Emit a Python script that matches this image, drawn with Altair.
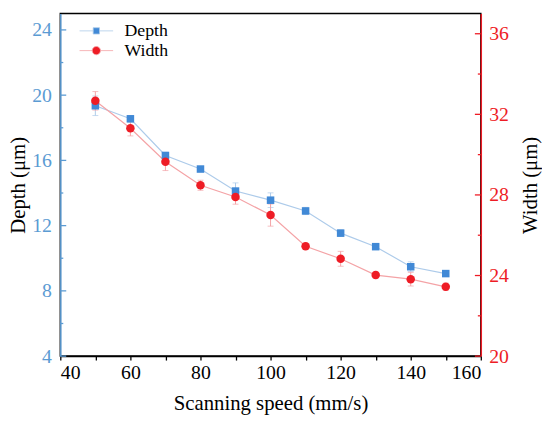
import altair as alt
import pandas as pd

# ---- data ----
speed = [50, 60, 70, 80, 90, 100, 110, 120, 130, 140, 150]
depth = [19.35, 18.55, 16.3, 15.47, 14.12, 13.56, 12.9, 11.54, 10.71, 9.48, 9.06]
depth_err = [0.6, 0.2, 0.2, 0.15, 0.5, 0.45, 0.22, 0.2, 0.15, 0.3, 0.15]
width = [32.67, 31.31, 29.65, 28.48, 27.9, 27.0, 25.45, 24.83, 24.02, 23.82, 23.44]
width_err = [0.46, 0.38, 0.44, 0.25, 0.36, 0.55, 0.15, 0.37, 0.15, 0.34, 0.18]

series_names = ["Depth", "Width"]
x_labels = [40, 60, 80, 100, 120, 140, 160]
x_minor = [50, 70, 90, 110, 130, 150]
x_all = [40, 50, 60, 70, 80, 90, 100, 110, 120, 130, 140, 150, 160]
depth_labels = [4, 8, 12, 16, 20, 24]
depth_minor = [6, 10, 14, 18, 22]
width_labels = [20, 24, 28, 32, 36]
width_minor = [22, 26, 30, 34]

BLUE = "#4189d6"
BLUE_AX = "#5b9bd3"
BLUE_LT = "#adcbea"
RED = "#ee1c25"
RED_LT = "#f4a3a6"
FONT = "Liberation Serif"
W, H = 426, 347
MAJ, MIN = 6, 3

ddf = pd.DataFrame({"speed": speed, "v": depth, "e": depth_err})
ddf["lo"] = ddf["v"] - ddf["e"]
ddf["hi"] = ddf["v"] + ddf["e"]
wdf = pd.DataFrame({"speed": speed, "v": width, "e": width_err})
wdf["lo"] = wdf["v"] - wdf["e"]
wdf["hi"] = wdf["v"] + wdf["e"]

xsc = alt.Scale(domain=[40, 160], nice=False, zero=False)
dsc = alt.Scale(domain=[4, 25], nice=False, zero=False)
wsc = alt.Scale(domain=[20, 37], nice=False, zero=False)

x_lab_axis = alt.Axis(orient="bottom", values=x_all, ticks=True, tickSize=4, tickColor="black",
                      tickWidth=1.3, grid=False,
                      labelExpr="datum.value % 20 === 0 ? datum.label : ''",
                      domainColor="black", domainWidth=1.5, labelColor="black",
                      labelFont=FONT, labelFontSize=20, labelPadding=3,
                      title="Scanning speed (mm/s)", titleFont=FONT, titleFontSize=21,
                      titleFontWeight="normal", titleColor="black", titlePadding=10)
d_lab_axis = alt.Axis(orient="left", values=depth_labels, ticks=False, grid=False,
                      domainColor=BLUE_AX, domainWidth=1.5, labelColor=BLUE_AX,
                      labelFont=FONT, labelFontSize=20, labelPadding=9,
                      title="Depth (μm)", titleFont=FONT, titleFontSize=21,
                      titleFontWeight="normal", titleColor="black", titlePadding=3)
w_lab_axis = alt.Axis(orient="right", values=width_labels, ticks=False, grid=False,
                      domainColor=RED, domainWidth=1.5, labelColor=RED,
                      labelFont=FONT, labelFontSize=20, labelPadding=8,
                      title="Width (μm)", titleFont=FONT, titleFontSize=21,
                      titleFontWeight="normal", titleColor="black", titlePadding=11,
                      titleAngle=270, titleBaseline="top")

X_lab = alt.X("speed:Q", scale=xsc, axis=x_lab_axis)
X_none = alt.X("speed:Q", scale=xsc, axis=None)


# ---- inward tick marks, positioned through the scales ----
def y_ticks(values, scale, color, at_right, length):
    df = pd.DataFrame({"t": values})
    x0 = W if at_right else 0
    x1 = W - length if at_right else length
    return alt.Chart(df).mark_rule(color=color, strokeWidth=1.3).encode(
        y=alt.Y("t:Q", scale=scale, axis=None), x=alt.value(x0), x2=alt.value(x1))


ticks = [
    y_ticks(depth_labels, dsc, BLUE_AX, False, MAJ), y_ticks(depth_minor, dsc, BLUE_AX, False, MIN),
    y_ticks(width_labels, wsc, RED, True, MAJ), y_ticks(width_minor, wsc, RED, True, MIN),
]

# Depth layers
d_err = alt.Chart(ddf).mark_rule(color=BLUE_LT, strokeWidth=1).encode(
    x=X_lab, y=alt.Y("lo:Q", scale=dsc, axis=d_lab_axis), y2="hi:Q")
d_line = alt.Chart(ddf).mark_line(color=BLUE_LT, strokeWidth=1.2).encode(
    x=X_none, y=alt.Y("v:Q", scale=dsc, axis=None))
d_cap_lo = alt.Chart(ddf).mark_tick(color=BLUE_LT, orient="horizontal", size=6, thickness=1).encode(
    x=X_none, y=alt.Y("lo:Q", scale=dsc, axis=None))
d_cap_hi = alt.Chart(ddf).mark_tick(color=BLUE_LT, orient="horizontal", size=6, thickness=1).encode(
    x=X_none, y=alt.Y("hi:Q", scale=dsc, axis=None))
d_pts = alt.Chart(ddf).mark_point(shape="square", filled=True, size=58, color=BLUE, opacity=1).encode(
    x=X_none, y=alt.Y("v:Q", scale=dsc, axis=None))

# Width layers
w_err = alt.Chart(wdf).mark_rule(color=RED_LT, strokeWidth=1).encode(
    x=X_none, y=alt.Y("lo:Q", scale=wsc, axis=w_lab_axis), y2="hi:Q")
w_line = alt.Chart(wdf).mark_line(color=RED_LT, strokeWidth=1.2).encode(
    x=X_none, y=alt.Y("v:Q", scale=wsc, axis=None))
w_cap_lo = alt.Chart(wdf).mark_tick(color=RED_LT, orient="horizontal", size=6, thickness=1).encode(
    x=X_none, y=alt.Y("lo:Q", scale=wsc, axis=None))
w_cap_hi = alt.Chart(wdf).mark_tick(color=RED_LT, orient="horizontal", size=6, thickness=1).encode(
    x=X_none, y=alt.Y("hi:Q", scale=wsc, axis=None))
w_pts = alt.Chart(wdf).mark_point(shape="circle", filled=True, size=74, color=RED, opacity=1).encode(
    x=X_none, y=alt.Y("v:Q", scale=wsc, axis=None))

# Legend-only layer (no rows drawn); symbol paths live in the [-1, 1] box
sq_path = "M-1.7,0H-0.32M0.32,0H1.7M-0.32,-0.32H0.32V0.32H-0.32Z"
ci_path = ("M-1.7,0H-0.42M0.42,0H1.7M0.42,0A0.42,0.42,0,1,1,-0.42,0"
           "A0.42,0.42,0,1,1,0.42,0Z")
leg_df = pd.DataFrame({"series": series_names})
leg_opts = dict(title=None, orient="none", legendX=26, legendY=7,
                labelFont=FONT, labelFontSize=18, labelColor="black",
                labelOffset=18, rowPadding=0, symbolSize=400, symbolStrokeWidth=0.8,
                symbolOpacity=1)
legend = alt.Chart(leg_df).transform_filter("false").mark_point(
    filled=True, size=400, strokeWidth=0.8, opacity=1).encode(
    fill=alt.Fill("series:N", scale=alt.Scale(domain=series_names, range=[BLUE, RED]),
                  legend=alt.Legend(**leg_opts)),
    stroke=alt.Stroke("series:N", scale=alt.Scale(domain=series_names, range=[BLUE_LT, RED_LT]),
                      legend=alt.Legend(**leg_opts)),
    shape=alt.Shape("series:N", scale=alt.Scale(domain=series_names, range=[sq_path, ci_path]),
                    legend=alt.Legend(**leg_opts)),
)

chart = alt.layer(
    d_err, d_line, d_cap_lo, d_cap_hi,
    w_err, w_line, w_cap_lo, w_cap_hi,
    *ticks,
    d_pts, w_pts, legend,
).resolve_scale(y="independent").resolve_axis(x="independent").properties(
    width=W, height=H,
    autosize=alt.AutoSizeParams(type="none"),
    padding={"left": 53, "top": 3, "right": 62, "bottom": 58},
    background="white",
).configure(font=FONT).configure_axis(labelFont=FONT, titleFont=FONT).configure_legend(
    labelFont=FONT
).configure_view(stroke="black", strokeWidth=1.5)

chart.save("out.html", embed_options={"renderer": "svg", "actions": False})
